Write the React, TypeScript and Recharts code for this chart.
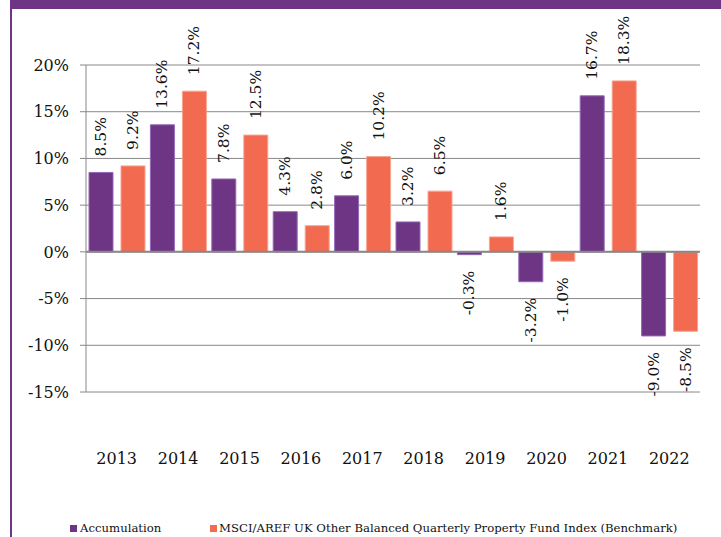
import { BarChart, Bar, XAxis, YAxis, CartesianGrid, ReferenceLine, Legend } from "recharts";

// yearly returns, in percent
const years = ["2013", "2014", "2015", "2016", "2017", "2018", "2019", "2020", "2021", "2022"];
const accumulation = [8.5, 13.6, 7.8, 4.3, 6.0, 3.2, -0.3, -3.2, 16.7, -9.0];
const benchmark = [9.2, 17.2, 12.5, 2.8, 10.2, 6.5, 1.6, -1.0, 18.3, -8.5];
const yTicks = [-15, -10, -5, 0, 5, 10, 15, 20];

const accumulationName = "Accumulation";
const benchmarkName = "MSCI/AREF UK Other Balanced Quarterly Property Fund Index (Benchmark)";

const data = years.map((year, i) => ({
  year,
  accumulation: accumulation[i],
  benchmark: benchmark[i],
}));

const PURPLE = "#6F3585";
const ORANGE = "#F26A4F";
const GRID = "#888888";
const FONT = "'DejaVu Serif', Georgia, serif";

// rotated value label, above the bar when positive and below when negative
const renderLabel = (props: any) => {
  const { x, y, width, height, value } = props;
  const cx = x + width / 2;
  const top = Math.min(y, y + height);
  const bottom = Math.max(y, y + height);
  const text = `${Number(value).toFixed(1)}%`;
  const positive = value >= 0;
  const ay = positive ? top - 16 : bottom + 16;
  return (
    <text
      x={cx}
      y={ay}
      transform={`rotate(-90 ${cx} ${ay})`}
      textAnchor={positive ? "start" : "end"}
      dominantBaseline="central"
      fontFamily={FONT}
      fontSize={15.5}
      fill="#111"
    >
      {text}
    </text>
  );
};

const renderLegend = () => (
  <div style={{ position: "relative", height: 30, fontFamily: FONT, fontSize: 11.7, color: "#111" }}>
    <div style={{ position: "absolute", left: 70, top: 14, display: "flex", alignItems: "center", lineHeight: "14px" }}>
      <span style={{ display: "inline-block", width: 7, height: 7, background: PURPLE, marginRight: 3 }} />
      {accumulationName}
    </div>
    <div style={{ position: "absolute", left: 210, top: 14, display: "flex", alignItems: "center", lineHeight: "14px", whiteSpace: "nowrap" }}>
      <span style={{ display: "inline-block", width: 7, height: 7, background: ORANGE, marginRight: 2 }} />
      {benchmarkName}
    </div>
  </div>
);

export default function App() {
  return (
    <div style={{ position: "absolute", left: 0, top: 0, width: 721, height: 537, background: "#fff", overflow: "hidden" }}>
      <div style={{ position: "absolute", left: 10, top: 0, width: 711, height: 9, background: PURPLE }} />
      <div style={{ position: "absolute", left: 10, top: 0, width: 2, height: 537, background: PURPLE }} />
      <BarChart
        width={721}
        height={537}
        data={data}
        margin={{ top: 65, right: 21, left: 0, bottom: 0 }}
        barCategoryGap={3}
        barGap={8}
      >
        <CartesianGrid vertical={false} stroke={GRID} strokeWidth={1} />
        <XAxis
          dataKey="year"
          axisLine={false}
          tickLine={false}
          tickSize={0}
          tickMargin={61}
          height={115}
          tick={{ fontFamily: FONT, fontSize: 16, fill: "#111" }}
        />
        <YAxis
          width={86}
          domain={[-15, 20]}
          ticks={yTicks}
          interval={0}
          tickFormatter={(v: number) => `${v}%`}
          axisLine={{ stroke: GRID }}
          tickLine={{ stroke: GRID }}
          tickSize={6}
          tickMargin={11}
          tick={{ fontFamily: FONT, fontSize: 16, fill: "#111" }}
        />
        <ReferenceLine y={0} stroke={GRID} strokeWidth={2} />
        <Legend verticalAlign="bottom" content={renderLegend} wrapperStyle={{ left: 0, width: 721 }} />
        <Bar
          dataKey="accumulation"
          name={accumulationName}
          fill={PURPLE}
          stroke="#9468B8"
          strokeWidth={1}
          isAnimationActive={false}
          label={renderLabel}
        />
        <Bar
          dataKey="benchmark"
          name={benchmarkName}
          fill={ORANGE}
          stroke="#F7A592"
          strokeWidth={1}
          isAnimationActive={false}
          label={renderLabel}
        />
      </BarChart>
    </div>
  );
}
